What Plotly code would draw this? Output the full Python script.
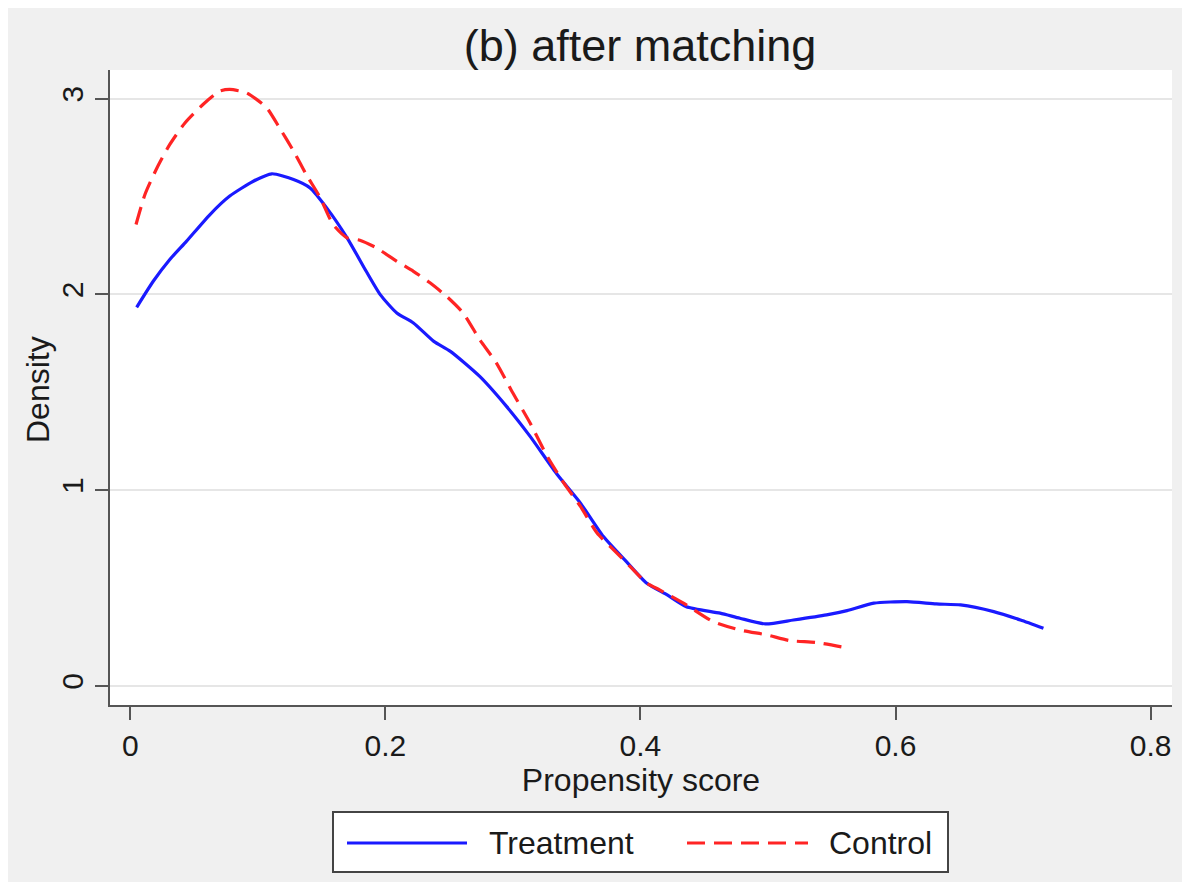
import plotly.graph_objects as go

# ---- data ----
treat_x = [0.005, 0.018, 0.031, 0.044, 0.0625, 0.078, 0.0965, 0.111, 0.128, 0.141,
           0.154, 0.170, 0.185, 0.196, 0.209, 0.222, 0.238, 0.251, 0.274, 0.295,
           0.3135, 0.334, 0.353, 0.371, 0.389, 0.405, 0.421, 0.436, 0.4625, 0.478,
           0.498, 0.520, 0.546, 0.562, 0.583, 0.609, 0.632, 0.651, 0.677, 0.698, 0.716]
treat_y = [1.934, 2.067, 2.178, 2.271, 2.408, 2.502, 2.578, 2.616, 2.587, 2.544,
           2.442, 2.289, 2.118, 1.999, 1.905, 1.854, 1.760, 1.709, 1.581, 1.428,
           1.275, 1.087, 0.934, 0.763, 0.635, 0.525, 0.465, 0.405, 0.372, 0.346,
           0.317, 0.337, 0.363, 0.385, 0.423, 0.431, 0.419, 0.414, 0.380, 0.337, 0.295]

ctrl_x = [0.0045, 0.0115, 0.021, 0.031, 0.043, 0.057, 0.070, 0.078, 0.091, 0.099,
          0.107, 0.117, 0.128, 0.138, 0.149, 0.159, 0.170, 0.180, 0.193, 0.209,
          0.222, 0.235, 0.248, 0.261, 0.274, 0.287, 0.300, 0.3135, 0.327, 0.340,
          0.353, 0.366, 0.379, 0.392, 0.405, 0.415, 0.436, 0.457, 0.478, 0.499,
          0.517, 0.538, 0.559]
ctrl_y = [2.357, 2.51, 2.647, 2.766, 2.877, 2.970, 3.038, 3.047, 3.030, 2.996,
          2.953, 2.851, 2.732, 2.612, 2.493, 2.357, 2.289, 2.277, 2.238, 2.169,
          2.118, 2.059, 1.990, 1.905, 1.769, 1.650, 1.496, 1.343, 1.172, 1.036,
          0.917, 0.781, 0.695, 0.610, 0.525, 0.491, 0.414, 0.329, 0.286, 0.261,
          0.232, 0.222, 0.198]

x_ticks = [0, 0.2, 0.4, 0.6, 0.8]
x_tick_labels = ["0", "0.2", "0.4", "0.6", "0.8"]
y_ticks = [0, 1, 2, 3]
y_tick_labels = ["0", "1", "2", "3"]

series_names = ["Treatment", "Control"]
title_text = "(b) after matching"
x_title = "Propensity score"
y_title = "Density"

BLUE = "#1a1aff"
RED = "#ff2424"
FONT = "Liberation Sans, Arial, sans-serif"
TXT = "#1a1a1a"
AX = "#555555"

fig = go.Figure()
fig.add_trace(go.Scatter(x=treat_x, y=treat_y, mode="lines", name=series_names[0],
                         line=dict(color=BLUE, width=3.2, shape="spline", smoothing=0.6),
                         showlegend=False))
fig.add_trace(go.Scatter(x=ctrl_x, y=ctrl_y, mode="lines", name=series_names[1],
                         line=dict(color=RED, width=3.2, dash="18px,9px", shape="spline", smoothing=0.6),
                         showlegend=False))

# page offset (body margin) of 8px: screen px -> figure px
OFF = 8
W, H = 1190 - OFF, 882 - OFF
L, R, T, B = 110 - OFF, 1172 - OFF, 70 - OFF, 705 - OFF


def px_x(p):
    return (p - OFF - L) / (R - L)


def px_y(p):
    return (B - (p - OFF)) / (B - T)


shapes = []
annotations = []
# legend box
shapes.append(dict(type="rect", xref="paper", yref="paper",
                   x0=px_x(333), x1=px_x(948), y0=px_y(872), y1=px_y(812),
                   line=dict(color="#444444", width=2), fillcolor="white", layer="above"))
shapes.append(dict(type="line", xref="paper", yref="paper",
                   x0=px_x(347), x1=px_x(467), y0=px_y(843), y1=px_y(843),
                   line=dict(color=BLUE, width=3.2)))
shapes.append(dict(type="line", xref="paper", yref="paper",
                   x0=px_x(687), x1=px_x(808), y0=px_y(843), y1=px_y(843),
                   line=dict(color=RED, width=3.2, dash="18px,9px")))
annotations.append(dict(xref="paper", yref="paper", x=px_x(487), y=px_y(843),
                        text=series_names[0], showarrow=False, xanchor="left", yanchor="middle",
                        font=dict(family=FONT, size=32, color=TXT)))
annotations.append(dict(xref="paper", yref="paper", x=px_x(827), y=px_y(843),
                        text=series_names[1], showarrow=False, xanchor="left", yanchor="middle",
                        font=dict(family=FONT, size=32, color=TXT)))
# y axis title (rotated)
annotations.append(dict(xref="paper", yref="paper", x=px_x(38), y=px_y(390),
                        text=y_title, showarrow=False, textangle=-90,
                        xanchor="center", yanchor="middle",
                        font=dict(family=FONT, size=32, color=TXT)))

fig.update_layout(
    width=W, height=H,
    margin=dict(l=L, r=W - R, t=T, b=H - B, pad=0),
    paper_bgcolor="#f0f0f0",
    plot_bgcolor="white",
    title=dict(text=title_text, x=(640 - OFF) / W, xanchor="center",
               y=1 - (45 - OFF) / H, yanchor="middle",
               font=dict(family=FONT, size=45, color=TXT)),
    font=dict(family=FONT, color=TXT),
    showlegend=False,
    shapes=shapes,
    annotations=annotations,
)

fig.update_xaxes(
    range=[-0.0159, 0.8168],
    tickmode="array", tickvals=x_ticks, ticktext=x_tick_labels,
    ticks="outside", ticklen=13, tickwidth=2, tickcolor=AX,
    showline=True, linecolor=AX, linewidth=2,
    showgrid=False, zeroline=False,
    tickfont=dict(family=FONT, size=30, color=TXT),
    title=dict(text=x_title, font=dict(family=FONT, size=32, color=TXT), standoff=4),
)
fig.update_yaxes(
    range=[-0.097, 3.146],
    tickmode="array", tickvals=y_ticks, ticktext=y_tick_labels, tickangle=-90,
    ticks="outside", ticklen=13, tickwidth=2, tickcolor=AX,
    showline=True, linecolor=AX, linewidth=2,
    showgrid=True, gridcolor="#e6e6e6", gridwidth=2, zeroline=False,
    tickfont=dict(family=FONT, size=30, color=TXT),
)

fig.write_html("out.html")
